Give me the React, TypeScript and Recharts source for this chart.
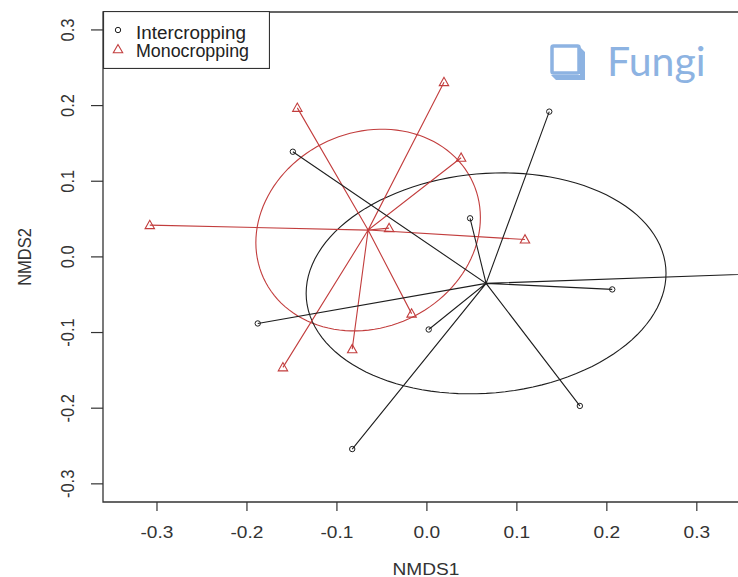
import React from 'react';
import { ScatterChart, Scatter, XAxis, YAxis, ReferenceArea, Legend, Label } from 'recharts';

// ---- data ----
const GROUPS = ['Intercropping', 'Monocropping'];
const INTER_X = [-0.149, 0.136, 0.048, 0.206, 0.002, 0.17, -0.188, -0.083, 0.45];
const INTER_Y = [0.139, 0.192, 0.051, -0.043, -0.096, -0.197, -0.088, -0.254, -0.019];
const MONO_X = [-0.144, -0.308, 0.019, 0.038, -0.042, 0.109, -0.017, -0.083, -0.16];
const MONO_Y = [0.197, 0.042, 0.231, 0.131, 0.038, 0.023, -0.075, -0.122, -0.146];
// ellipse conjugate semi-axes [ux, uy, vx, vy] in data units
const INTER_ELLIPSE = [0.1997, 0.021, -0.0108, 0.1445];
const MONO_ELLIPSE = [0.1163, 0.0633, -0.0452, 0.1173];
const X_TICKS = [-0.3, -0.2, -0.1, 0, 0.1, 0.2, 0.3];
const Y_TICKS = [-0.3, -0.2, -0.1, 0, 0.1, 0.2, 0.3];
const X_DOMAIN = [-0.36, 0.358];
const Y_DOMAIN = [-0.324, 0.3237];
const TITLE = 'Fungi';

const RED = '#c23d3d';
const INK = '#1e1e1e';
const STRETCH = 1.16;
const FONT = '"Liberation Sans", Arial, sans-serif';

type P = { x: number; y: number };
const toPts = (xs: number[], ys: number[]): P[] => xs.map((x, i) => ({ x, y: ys[i] }));
const mean = (a: number[]) => a.reduce((s, v) => s + v, 0) / a.length;
const centroid = (xs: number[], ys: number[]): P => ({ x: mean(xs), y: mean(ys) });
const spider = (c: P, pts: P[]): P[] => {
  const out: P[] = [];
  pts.forEach((p) => {
    out.push(c);
    out.push(p);
  });
  return out;
};
const ellipse = (c: P, a: number[]): P[] => {
  const out: P[] = [];
  const n = 120;
  for (let i = 0; i <= n; i++) {
    const t = (i / n) * Math.PI * 2;
    out.push({ x: c.x + a[0] * Math.cos(t) + a[2] * Math.sin(t), y: c.y + a[1] * Math.cos(t) + a[3] * Math.sin(t) });
  }
  return out;
};

const interPts = toPts(INTER_X, INTER_Y);
const monoPts = toPts(MONO_X, MONO_Y);
const interC = centroid(INTER_X, INTER_Y);
const monoC = centroid(MONO_X, MONO_Y);

const fmt = (v: number) => (Math.abs(v) < 1e-9 ? '0.0' : v.toFixed(1));

const Empty = () => <g />;

const CircleMark = (p: any) => (
  <circle cx={p.cx} cy={p.cy} r={2.7} fill="none" stroke={INK} strokeWidth={1} />
);
const TriMark = (p: any) => (
  <polygon
    points={`${p.cx},${p.cy - 4.8} ${p.cx - 4.7},${p.cy + 3.5} ${p.cx + 4.7},${p.cy + 3.5}`}
    fill="none"
    stroke={RED}
    strokeWidth={1.1}
  />
);

const XTick = (p: any) => (
  <g transform={`translate(${p.x},${p.y + 21}) scale(${STRETCH},1)`}>
    <text x={0} y={0} textAnchor="middle" dominantBaseline="central" fontSize={16.5} fontFamily={FONT} fill="#333">
      {fmt(p.payload.value)}
    </text>
  </g>
);
const YTick = (p: any) => (
  <g transform={`translate(${p.x - 23},${p.y}) scale(${STRETCH},1) rotate(-90)`}>
    <text x={0} y={0} textAnchor="middle" dominantBaseline="central" fontSize={16.5} fontFamily={FONT} fill="#333">
      {fmt(p.payload.value)}
    </text>
  </g>
);

const LegendBox = () => (
  <svg width={167} height={58} style={{ display: 'block' }}>
    <rect x={0.5} y={0.5} width={166} height={57} fill="#fff" stroke="#333" strokeWidth={1.2} />
    <circle cx={15} cy={19} r={2.7} fill="none" stroke={INK} strokeWidth={1} />
    <text x={33} y={27.8} fontSize={17.5} fontFamily={FONT} fill="#222" textLength={110} lengthAdjust="spacingAndGlyphs">
      {GROUPS[0]}
    </text>
    <polygon points={`15,${38.3 - 4.8} ${15 - 4.7},${38.3 + 3.5} ${15 + 4.7},${38.3 + 3.5}`} fill="none" stroke={RED} strokeWidth={1.1} />
    <text x={33} y={46.2} fontSize={17.5} fontFamily={FONT} fill="#222" textLength={113} lengthAdjust="spacingAndGlyphs">
      {GROUPS[1]}
    </text>
  </svg>
);

export default function App() {
  return (
    <div style={{ position: 'fixed', left: 0, top: 0, width: 738, height: 577, overflow: 'hidden', background: '#fff' }}>
      <ScatterChart width={760} height={577} margin={{ top: 12, right: 11, bottom: 0, left: 0 }}>
        <XAxis
          type="number"
          dataKey="x"
          domain={X_DOMAIN}
          allowDataOverflow
          ticks={X_TICKS}
          interval={0}
          height={75}
          axisLine={false}
          tickLine={{ stroke: '#333', strokeWidth: 1.2 }}
          tickSize={9}
          tickMargin={0}
          tick={XTick}
        >
          <Label
            content={(lp: any) => {
              const vb = lp.viewBox || { x: 103, y: 502, width: 646 };
              return (
                <g transform={`translate(${vb.x + vb.width / 2},${vb.y + 67}) scale(${STRETCH},1)`}>
                  <text x={0} y={0} textAnchor="middle" dominantBaseline="central" fontSize={16.5} fontFamily={FONT} fill="#333">
                    NMDS1
                  </text>
                </g>
              );
            }}
          />
        </XAxis>
        <YAxis
          type="number"
          dataKey="y"
          domain={Y_DOMAIN}
          allowDataOverflow
          ticks={Y_TICKS}
          interval={0}
          width={103}
          axisLine={false}
          tickLine={{ stroke: '#333', strokeWidth: 1.2 }}
          tickSize={12}
          tickMargin={0}
          tick={YTick}
        >
          <Label
            content={(lp: any) => {
              const vb = lp.viewBox || { x: 0, y: 12, height: 490 };
              return (
                <g transform={`translate(25,${vb.y + vb.height / 2}) scale(${STRETCH},1) rotate(-90)`}>
                  <text x={0} y={0} textAnchor="middle" dominantBaseline="central" fontSize={16.5} fontFamily={FONT} fill="#333">
                    NMDS2
                  </text>
                </g>
              );
            }}
          />
        </YAxis>
        <ReferenceArea
          x1={X_DOMAIN[0]}
          x2={X_DOMAIN[1]}
          y1={Y_DOMAIN[0]}
          y2={Y_DOMAIN[1]}
          fill="none"
          fillOpacity={0}
          stroke="#333"
          strokeWidth={1.3}
          ifOverflow="visible"
        />
        <Scatter
          name="monoEllipse"
          data={ellipse(monoC, MONO_ELLIPSE)}
          line={{ stroke: RED, strokeWidth: 1.1 }}
          lineType="joint"
          shape={Empty}
          isAnimationActive={false}
          legendType="none"
        />
        <Scatter
          name="interEllipse"
          data={ellipse(interC, INTER_ELLIPSE)}
          line={{ stroke: INK, strokeWidth: 1.1 }}
          lineType="joint"
          shape={Empty}
          isAnimationActive={false}
          legendType="none"
        />
        <Scatter
          name="monoSpider"
          data={spider(monoC, monoPts)}
          line={{ stroke: RED, strokeWidth: 1.1 }}
          lineType="joint"
          shape={Empty}
          isAnimationActive={false}
          legendType="none"
        />
        <Scatter
          name="interSpider"
          data={spider(interC, interPts)}
          line={{ stroke: INK, strokeWidth: 1.1 }}
          lineType="joint"
          shape={Empty}
          isAnimationActive={false}
          legendType="none"
        />
        <Scatter name={GROUPS[0]} data={interPts} shape={CircleMark} isAnimationActive={false} />
        <Scatter name={GROUPS[1]} data={monoPts} shape={TriMark} isAnimationActive={false} />
        <Legend
          layout="horizontal"
          verticalAlign="middle"
          align="center"
          content={LegendBox}
          wrapperStyle={{ position: 'absolute', left: 103, top: 11, width: 167, height: 58, margin: 0, padding: 0 }}
        />
      </ScatterChart>
      <div style={{ position: 'absolute', left: 549, top: 39, height: 44, display: 'flex', alignItems: 'flex-start', pointerEvents: 'none' }}>
        <svg width={37} height={38} style={{ display: 'block', marginTop: 4 }}>
          <path d="M31,4 L36,9 L36,37 L7,37 L2,32 L31,32 Z" fill="#8db3e2" />
          <rect x={3} y={3} width={27} height={27} rx={1.5} fill="none" stroke="#8db3e2" strokeWidth={3.5} />
        </svg>
        <span
          style={{
            marginLeft: 21,
            fontFamily: 'Lato, "Open Sans", sans-serif',
            fontSize: 41,
            lineHeight: '44px',
            color: '#8db3e2',
          }}
        >
          {TITLE}
        </span>
      </div>
    </div>
  );
}
